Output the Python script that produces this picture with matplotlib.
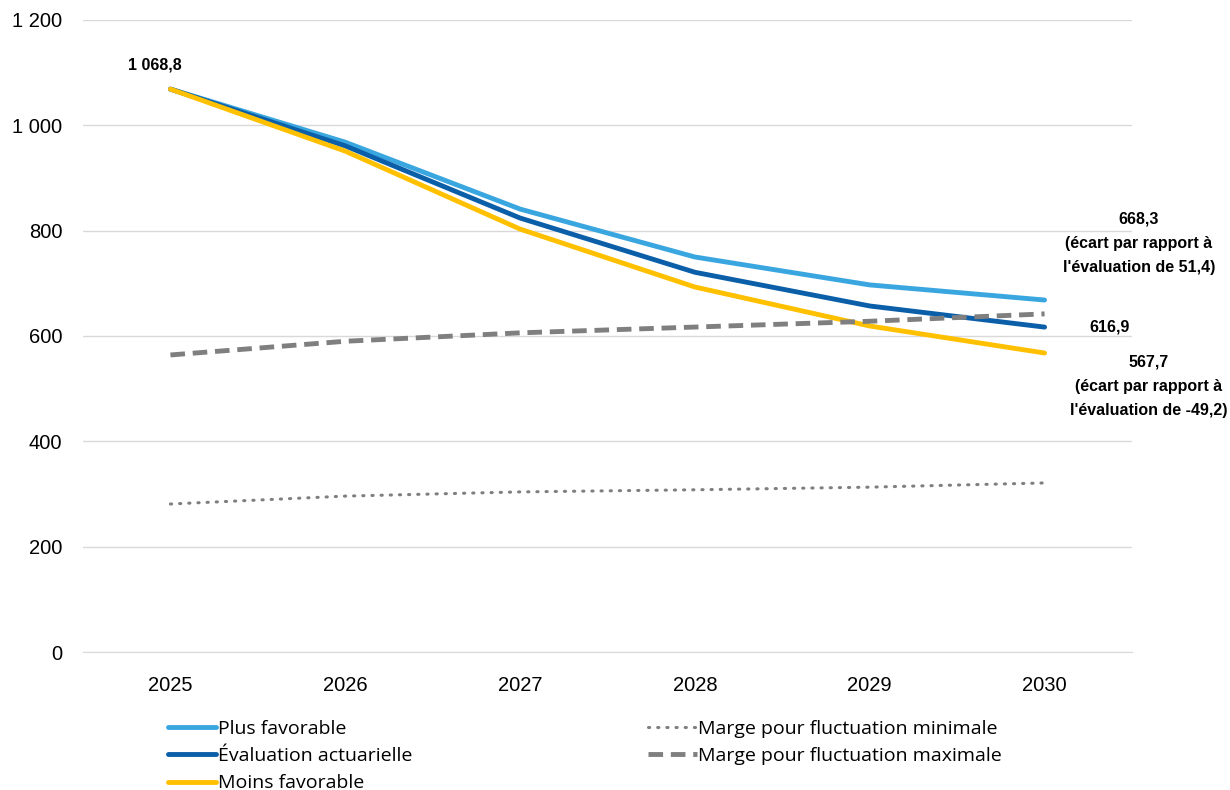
import matplotlib.pyplot as plt
import numpy as np

annees = ["2025", "2026", "2027", "2028", "2029", "2030"]
plus_favorable = [1068.8, 968, 841, 750, 697, 668.3]
evaluation = [1068.8, 961, 824, 721, 657, 616.9]
moins_favorable = [1068.8, 951, 803, 693, 619, 567.7]
marge_min = [281, 296, 304, 308, 313, 321]
marge_max = [564, 590, 606, 617, 628, 642]

plt.rcParams['font.family'] = ['Liberation Sans', 'DejaVu Sans']

fig = plt.figure(figsize=(12.3, 7.9), dpi=100)
ax = fig.add_axes([83 / 1230, 1 - 652 / 790, (1132 - 83) / 1230, (652 - 20) / 790])

x = np.arange(len(annees))
l1, = ax.plot(x, plus_favorable, color="#3aa6e0", lw=3.5, solid_capstyle='round', label="Plus favorable")
l2, = ax.plot(x, evaluation, color="#0b5ea8", lw=3.5, solid_capstyle='round', label="Évaluation actuarielle")
l3, = ax.plot(x, moins_favorable, color="#ffc000", lw=3.5, solid_capstyle='round', label="Moins favorable")
l4, = ax.plot(x, marge_min, color="#7f7f7f", lw=2.2, linestyle=(0, (0.4, 2.6)), dash_capstyle='round', label="Marge pour fluctuation minimale")
l5, = ax.plot(x, marge_max, color="#7f7f7f", lw=3.5, linestyle=(0, (3, 1.6)), label="Marge pour fluctuation maximale")

ax.set_xlim(-0.5, len(annees) - 0.5)
ax.set_ylim(0, 1200)
ax.set_xticks(x)
ax.set_xticklabels(annees)
ax.set_yticks(np.arange(0, 1201, 200))
ax.set_yticklabels(["0", "200", "400", "600", "800", "1 000", "1 200"])
ax.tick_params(axis='both', length=0, labelsize=14.5, colors="#000000")
ax.tick_params(axis='x', pad=17)
ax.tick_params(axis='y', pad=15)
for side in ['top', 'right', 'left']:
    ax.spines[side].set_visible(False)
ax.spines['bottom'].set_color("#d9d9d9")
ax.grid(axis='y', color="#d9d9d9", lw=1)
ax.set_axisbelow(True)

# Étiquettes de données
lbl = dict(fontsize=11.5, fontweight='bold', annotation_clip=False, textcoords='offset points')
ax.annotate("1 068,8", (0, plus_favorable[0]), xytext=(-11, 12), ha='center', va='bottom', **lbl)
ax.annotate("668,3\n(écart par rapport à\nl'évaluation de 51,4)", (5, plus_favorable[5]),
            xytext=(68, 18), ha='center', va='bottom', linespacing=1.78, **lbl)
ax.annotate("616,9", (5, evaluation[5]), xytext=(47, 0), ha='center', va='center', **lbl)
ax.annotate("567,7\n(écart par rapport à\nl'évaluation de -49,2)", (5, moins_favorable[5]),
            xytext=(75, -1), ha='center', va='top', linespacing=1.78, **lbl)

handles = [l1, l2, l3, l4, l5]
fig.legend(handles, [h.get_label() for h in handles], ncol=2, loc='upper left',
           bbox_to_anchor=(158 / 1230, 1 - 710 / 790), frameon=False, borderpad=0,
           handlelength=2.5, handletextpad=0.1, columnspacing=12.1, labelspacing=0.48,
           prop={'family': ['Open Sans', 'DejaVu Sans'], 'size': 14})

fig.savefig("out.png", dpi=100)
